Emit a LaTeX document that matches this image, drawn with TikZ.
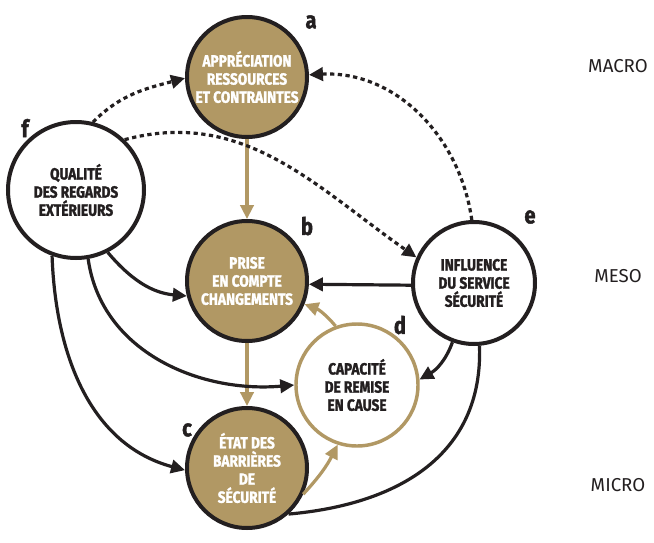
\documentclass[tikz,border=0pt]{standalone}
\usepackage{fontspec}
\setmainfont{Fira Sans}
\newfontfamily\cond{Fira Sans}[FakeStretch=0.84, BoldFeatures={FakeBold=1.6}]
\usetikzlibrary{arrows.meta}
\definecolor{tan}{RGB}{177,152,100}
\definecolor{ink}{RGB}{35,31,32}
\begin{document}
\begin{tikzpicture}[x=0.75pt,y=-0.75pt,
  every node/.style={inner sep=0pt},
  bubble/.style={circle, line width=3pt, align=center,
    font=\cond\bfseries\fontsize{12.2}{13.6}\selectfont},
  tannode/.style={bubble, draw=ink, fill=tan, text=white, minimum size=90pt},
  whitenode/.style={bubble, draw=ink, fill=white, text=ink, minimum size=91.5pt},
  dnode/.style={bubble, draw=tan, line width=2.6pt, fill=white, text=ink, minimum size=91.5pt},
  lbl/.style={font=\cond\bfseries\fontsize{18}{18}\selectfont, text=ink},
  lvl/.style={font=\fontsize{14}{14}\selectfont, text=ink},
  tip/.style={-{Triangle[length=10.5pt,width=10pt]}},
  conn/.style={line width=2.4pt, draw=ink, tip},
  plain/.style={line width=2.4pt, draw=ink},
  tanconn/.style={line width=2.4pt, draw=tan, tip},
  dotconn/.style={conn, dash pattern=on 3.2pt off 2.6pt},
]
\useasboundingbox[fill=white] (0,0) rectangle (654,543);

% nodes
\node[tannode] (a) at (247,77) {APPRÉCIATION\\RESSOURCES\\ET CONTRAINTES};
\node[tannode] (b) at (247,281) {PRISE\\EN COMPTE\\CHANGEMENTS};
\node[tannode] (c) at (247,468) {ÉTAT DES\\BARRIÈRES\\DE\\SÉCURITÉ};
\node[dnode] (d) at (357,385) {CAPACITÉ\\DE REMISE\\EN CAUSE};
\node[whitenode] (e) at (474,283) {INFLUENCE\\DU SERVICE\\SÉCURITÉ};
\node[whitenode, minimum size=102pt] (f) at (76,190) {QUALITÉ\\DES REGARDS\\EXTÉRIEURS};

% letters
\node[lbl] (la) at (311,22) {a};
\node[lbl] (lb) at (307,226) {b};
\node[lbl] (lc) at (187,430) {c};
\node[lbl] (ld) at (400,325) {d};
\node[lbl] (le) at (530,217) {e};
\node[lbl] (lf) at (25,128) {f};

% levels
\node[lvl] (macro) at (618,66) {MACRO};
\node[lvl] (meso) at (618,276) {MESO};
\node[lvl] (micro) at (618,485) {MICRO};

% tan connectors
\draw[tanconn] (a.south) -- (b.north);
\draw[tanconn] (b.south) -- (c.north);
\draw[tanconn] (d.110) to[bend right=15] (b.-22);
\draw[tanconn] (c.-25) to[bend right=8] (d.-108);

% black connectors
\draw[conn] (e.182) -- (b.-3);
\draw[conn] (e.-110) to[out=-110, in=30] (d.5);
\draw[plain] (e.-85) to[out=-88, in=5, looseness=1.1] (c.-48);
\draw[conn] (f.-63) to[out=-50, in=175] (b.194);
\draw[conn] (f.-80) to[out=-82, in=185] (d.180);
\draw[conn] (f.-110) to[out=-88, in=165] (c.182);

% dotted connectors
\draw[dotconn] (f.76) to[out=45, in=195] (a.181);
\draw[dotconn] (f.46) to[out=15, in=145] (e.156);
\draw[dotconn] (e.92) to[out=98, in=3] (a.2);
\end{tikzpicture}
\end{document}
